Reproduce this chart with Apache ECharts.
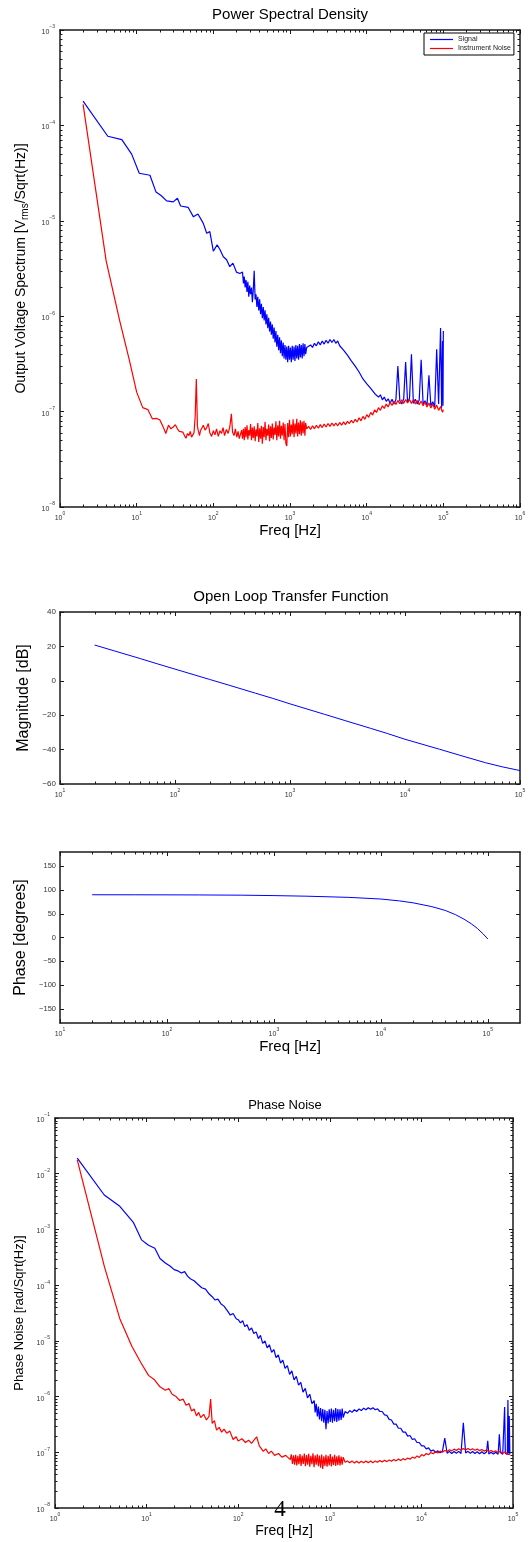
<!DOCTYPE html>
<html>
<head>
<meta charset="utf-8">
<script src="https://cdn.jsdelivr.net/npm/echarts@6/dist/echarts.min.js"></script>
<style>
html, body { margin: 0; padding: 0; background: #fff; }
#chart { width: 532px; height: 1542px; }
</style>
</head>
<body>
<div id="chart"></div>
<script>
// ---- Power Spectral Density [freq Hz, V/sqrt(Hz)] ----
const psdSignal = [
  [2,1.8e-4],[4.2,7.7e-5],[6.4,7.1e-5],[8.6,5.0e-5],[10.8,3.15e-5],[14.9,3.0e-5],[17.9,2.0e-5],
  [21,1.83e-5],[24.6,1.62e-5],[30,1.58e-5],[34,1.72e-5],[37.4,1.43e-5],[47,1.38e-5],[55,1.1e-5],
  [63,1.18e-5],[74,9.4e-6],[82,7.4e-6],[90,7.7e-6],[100,4.8e-6],[112,5.6e-6],[122,5.0e-6],
  [135,4.2e-6],[149,3.9e-6],[164,3.3e-6],[180,3.6e-6],[200,2.9e-6],[222,2.8e-6],
  [240,2.9e-6],[247,2.2e-6],[253,2.6e-6],[260,2.0e-6],[267,2.4e-6],[275,1.8e-6],[282,2.3e-6],
  [290,1.6e-6],[298,2.1e-6],[306,1.7e-6],[315,2.0e-6],[323,1.4e-6],[332,1.9e-6],[341,3.0e-6],
  [351,1.5e-6],[360,1.7e-6],[370,1.25e-6],[380,1.6e-6],[391,1.15e-6],[402,1.5e-6],[413,1.05e-6],
  [424,1.35e-6],[436,9.5e-7],[448,1.25e-6],[460,9e-7],[473,1.15e-6],[486,8.2e-7],[499,1.05e-6],
  [513,7.5e-7],[527,9.6e-7],[542,6.9e-7],[557,8.8e-7],[572,6.4e-7],[588,8.2e-7],[604,5.8e-7],
  [621,7.6e-7],[638,5.3e-7],[655,7e-7],[673,4.8e-7],[692,6.4e-7],[711,4.4e-7],[731,6e-7],
  [751,4.1e-7],[771,5.6e-7],[793,3.8e-7],[815,5.3e-7],[837,3.6e-7],[860,5.0e-7],[884,3.5e-7],
  [908,4.8e-7],[933,3.3e-7],[959,4.9e-7],[985,3.5e-7],[1012,4.7e-7],[1040,3.3e-7],[1069,4.9e-7],
  [1098,3.5e-7],[1129,4.8e-7],[1160,3.4e-7],[1192,5.0e-7],[1225,3.6e-7],[1258,4.9e-7],[1293,3.5e-7],
  [1329,5.1e-7],[1365,3.7e-7],[1403,5.0e-7],[1442,3.6e-7],[1481,5.2e-7],[1522,3.8e-7],[1564,5.1e-7],
  [1600,4.0e-7],[1650,4.7e-7],[1750,4.5e-7],[1855,5.0e-7],[1966,4.7e-7],[2084,5.2e-7],[2209,4.9e-7],
  [2342,5.4e-7],[2482,5.0e-7],[2631,5.5e-7],[2789,5.1e-7],[2956,5.6e-7],[3134,5.2e-7],[3322,5.7e-7],
  [3521,5.3e-7],[3732,5.7e-7],[3956,5.2e-7],[4194,5.5e-7],[4445,4.9e-7],[4712,5.1e-7],[4995,4.4e-7],
  [5294,4.5e-7],[5612,3.9e-7],[5949,4.0e-7],[6306,3.4e-7],[6684,3.5e-7],[7085,3.0e-7],[7510,3.0e-7],
  [7961,2.6e-7],[8438,2.6e-7],[8945,2.2e-7],[9481,2.3e-7],[10050,1.95e-7],[10653,2.0e-7],
  [11292,1.75e-7],[11970,1.8e-7],[12688,1.55e-7],[13449,1.6e-7],[14256,1.42e-7],[15111,1.5e-7],
  [16018,1.33e-7],[16979,1.42e-7],[17998,1.28e-7],[19078,1.36e-7],[20222,1.22e-7],[21436,1.35e-7],
  [22722,1.2e-7],[24085,1.34e-7],[25530,3.0e-7],[27062,1.3e-7],[28686,1.2e-7],[30407,1.36e-7],
  [32231,3.3e-7],[34165,1.25e-7],[36215,1.38e-7],[38388,4.0e-7],[40691,1.22e-7],[43133,1.35e-7],
  [45721,1.2e-7],[48464,1.32e-7],[51372,3.5e-7],[54454,1.2e-7],[57721,1.3e-7],[61184,1.15e-7],
  [64855,2.4e-7],[68747,1.15e-7],[72872,1.27e-7],[77244,1.12e-7],[81879,4.5e-7],[86792,1.2e-7],
  [92000,7.5e-7],[95000,1.1e-7],[97520,5.5e-7],[99000,1.15e-7],[100000,7.0e-7]
];
const psdNoise = [
  [2,1.66e-4],[4,3.8e-6],[6,9e-7],[8,3.5e-7],[10,1.6e-7],[12,1.1e-7],[14,1.05e-7],[16,8.4e-8],
  [18,8.5e-8],[20,8.2e-8],[22,7e-8],[24,5.9e-8],[26,7.2e-8],[28,6.6e-8],[30,6.9e-8],[32,7.3e-8],
  [34,6.6e-8],[36,6.2e-8],[38,6.5e-8],[40,6.1e-8],[42,5.6e-8],[44,5.25e-8],[46,5.9e-8],[48,5.6e-8],
  [50,6.2e-8],[52,5.4e-8],[54,5.7e-8],[56,6.0e-8],[58,9e-8],[60,2.2e-7],[62,7e-8],[64,6.2e-8],
  [66,5.6e-8],[68,6.3e-8],[70,6.6e-8],[74,7.2e-8],[78,6.4e-8],[82,6.8e-8],[86,7.5e-8],[90,6.0e-8],
  [95,5.5e-8],[100,6.3e-8],[105,5.7e-8],[110,6.6e-8],[116,5.5e-8],[122,6.3e-8],[128,5.9e-8],
  [134,6.8e-8],[140,5.6e-8],[148,6.5e-8],[156,5.9e-8],[164,6.9e-8],[172,9.5e-8],[178,6.1e-8],
  [186,5.6e-8],[194,6.6e-8],[202,5.4e-8],[210,6.2e-8],[218,5.2e-8],[226,5.0e-8],[234,6.4e-8],
  [240,5.2e-8],[247,6.6e-8],[253,5.0e-8],[260,6.9e-8],[267,5.4e-8],[275,7.2e-8],[282,5.1e-8],
  [290,6.4e-8],[298,5.6e-8],[306,7.4e-8],[315,5.0e-8],[323,6.8e-8],[332,5.3e-8],[341,7.0e-8],
  [351,4.9e-8],[360,6.5e-8],[370,5.5e-8],[380,7.6e-8],[391,4.8e-8],[402,6.7e-8],[413,5.2e-8],
  [424,7.1e-8],[436,4.6e-8],[448,6.9e-8],[460,5.4e-8],[473,7.8e-8],[486,5.0e-8],[499,6.6e-8],
  [513,5.6e-8],[527,7.3e-8],[542,4.9e-8],[557,7.0e-8],[572,5.3e-8],[588,7.5e-8],[604,5.1e-8],
  [621,6.8e-8],[638,5.7e-8],[655,7.9e-8],[673,5.0e-8],[692,7.2e-8],[711,5.5e-8],[731,8.0e-8],
  [751,5.2e-8],[771,7.1e-8],[793,5.6e-8],[815,7.7e-8],[837,5.0e-8],[860,7.4e-8],[884,4.6e-8],
  [908,4.35e-8],[933,7.6e-8],[959,5.4e-8],[985,8.2e-8],[1012,5.5e-8],[1040,7.3e-8],[1069,5.8e-8],
  [1098,8.3e-8],[1129,5.4e-8],[1160,7.5e-8],[1192,5.9e-8],[1225,8.4e-8],[1258,5.5e-8],[1293,7.7e-8],
  [1329,5.8e-8],[1365,8.1e-8],[1403,5.6e-8],[1442,7.8e-8],[1481,5.9e-8],[1522,8.0e-8],[1564,5.6e-8],
  [1600,7.6e-8],[1650,6.6e-8],[1750,7.0e-8],[1855,6.5e-8],[1966,7.1e-8],[2084,6.6e-8],[2209,7.2e-8],
  [2342,6.7e-8],[2482,7.3e-8],[2631,6.8e-8],[2789,7.4e-8],[2956,6.9e-8],[3134,7.5e-8],[3322,7.0e-8],
  [3521,7.6e-8],[3732,7.1e-8],[3956,7.6e-8],[4194,7.1e-8],[4445,7.7e-8],[4712,7.2e-8],[4995,7.8e-8],
  [5294,7.3e-8],[5612,7.9e-8],[5949,7.5e-8],[6306,8.1e-8],[6684,7.6e-8],[7085,8.3e-8],[7510,7.8e-8],
  [7961,8.6e-8],[8438,8.0e-8],[8945,8.9e-8],[9481,8.3e-8],[10050,9.3e-8],[10653,8.7e-8],[11292,9.8e-8],
  [11970,9.2e-8],[12688,1.04e-7],[13449,9.8e-8],[14256,1.1e-7],[15111,1.03e-7],[16018,1.15e-7],
  [16979,1.08e-7],[17998,1.2e-7],[19078,1.12e-7],[20222,1.25e-7],[21436,1.16e-7],[22722,1.28e-7],
  [24085,1.19e-7],[25530,1.31e-7],[27062,1.21e-7],[28686,1.33e-7],[30407,1.22e-7],[32231,1.34e-7],
  [34165,1.23e-7],[36215,1.34e-7],[38388,1.22e-7],[40691,1.33e-7],[43133,1.2e-7],[45721,1.31e-7],
  [48464,1.18e-7],[51372,1.29e-7],[54454,1.15e-7],[57721,1.26e-7],[61184,1.12e-7],[64855,1.23e-7],
  [68747,1.09e-7],[72872,1.2e-7],[77244,1.06e-7],[81879,1.17e-7],[86792,1.03e-7],[92000,1.13e-7],
  [97520,9.8e-8],[100000,1.05e-7]
];

// ---- Open loop transfer function ----
const magData = [
  [20,20.8],[30,17.3],[50,12.9],[70,9.9],[100,6.8],[200,0.8],[300,-2.7],[500,-7.2],[700,-10.1],
  [1000,-13.4],[2000,-19.5],[3000,-23.1],[5000,-27.6],[7000,-30.6],[10000,-34],[20000,-39.8],
  [30000,-43.3],[50000,-47.6],[70000,-50],[100000,-52.2]
];
const phaseData = [
  [20,90],[50,89.9],[100,89.8],[200,89.6],[500,89.1],[1000,88.2],[2000,87],[5000,84.5],[10000,81],
  [15000,77],[20000,73],[30000,65],[40000,57],[50000,48],[60000,38.5],[70000,29],[80000,19],
  [90000,8],[100000,-3]
];

// ---- Phase noise [freq Hz, rad/sqrt(Hz)] ----
const pnSignal = [
  [1.75,1.9e-2],[3.45,4.15e-3],[5.1,2.6e-3],[7.2,1.32e-3],[8.8,6.5e-4],[10.5,5.2e-4],[12.3,4.6e-4],
  [14,3e-4],[16,2.5e-4],[18,2.2e-4],[20,1.9e-4],[22,1.8e-4],[24,1.65e-4],[26,1.75e-4],[28,1.45e-4],
  [30,1.3e-4],[33,1.2e-4],[36,1.05e-4],[40,9e-5],[44,8.5e-5],[48,7e-5],[52,6.2e-5],[56,5.4e-5],
  [60,5.6e-5],[65,4.6e-5],[70,4.2e-5],[76,3.5e-5],[82,2.9e-5],[88,3.1e-5],[95,2.5e-5],[100,2.4e-5],
  [106,2.1e-5],[112,2.3e-5],[118,1.8e-5],[125,1.95e-5],[132,1.55e-5],[140,1.7e-5],[148,1.35e-5],
  [157,1.45e-5],[166,1.1e-5],[175,1.25e-5],[185,9e-6],[196,1e-5],[207,7.5e-6],[219,8.5e-6],
  [232,6.2e-6],[245,7e-6],[259,5e-6],[274,5.6e-6],[290,4e-6],[307,4.5e-6],[325,3.2e-6],[344,3.6e-6],
  [364,2.5e-6],[385,2.9e-6],[407,2e-6],[431,2.3e-6],[456,1.6e-6],[482,1.8e-6],[510,1.2e-6],
  [540,1.4e-6],[571,9.5e-7],[604,1.1e-6],[639,7.5e-7],[676,8.5e-7],[692,5.2e-7],[711,7.4e-7],
  [731,4.4e-7],[751,6.6e-7],[771,3.9e-7],[793,6.2e-7],[815,3.6e-7],[837,6.0e-7],[860,3.4e-7],
  [884,5.8e-7],[908,2.6e-7],[933,5.5e-7],[959,3.3e-7],[985,5.9e-7],[1012,3.5e-7],[1040,6.1e-7],
  [1069,3.4e-7],[1098,5.8e-7],[1129,3.6e-7],[1160,6.2e-7],[1192,3.5e-7],[1225,6.0e-7],[1258,3.7e-7],
  [1293,5.9e-7],[1329,3.8e-7],[1365,6.1e-7],[1400,4.2e-7],[1470,5.4e-7],[1560,5.0e-7],[1650,5.6e-7],
  [1750,5.2e-7],[1855,5.8e-7],[1966,5.4e-7],[2084,6.0e-7],[2209,5.6e-7],[2342,6.2e-7],[2482,5.8e-7],
  [2631,6.3e-7],[2789,5.9e-7],[2956,6.3e-7],[3134,5.8e-7],[3322,6.0e-7],[3521,5.4e-7],[3732,5.4e-7],
  [3956,4.7e-7],[4194,4.6e-7],[4445,3.9e-7],[4712,3.8e-7],[4995,3.2e-7],[5294,3.2e-7],[5612,2.7e-7],
  [5949,2.7e-7],[6306,2.3e-7],[6684,2.3e-7],[7085,1.95e-7],[7510,2.0e-7],[7961,1.7e-7],[8438,1.75e-7],
  [8945,1.5e-7],[9481,1.5e-7],[10050,1.3e-7],[10653,1.3e-7],[11292,1.15e-7],[11970,1.2e-7],
  [12688,1.05e-7],[13449,1.1e-7],[14256,1.0e-7],[15111,1.06e-7],[16018,9.8e-8],[16979,1.05e-7],
  [17998,1.8e-7],[19078,9.6e-8],[20222,1.04e-7],[21436,9.5e-8],[22722,1.03e-7],[24085,9.6e-8],
  [25530,1.04e-7],[27062,9.5e-8],[28686,3.4e-7],[30407,9.7e-8],[32231,1.04e-7],[34165,9.6e-8],
  [36215,1.03e-7],[38388,9.5e-8],[40691,1.02e-7],[43133,9.4e-8],[45721,1.02e-7],[48464,9.4e-8],
  [51372,1.01e-7],[53000,1.6e-7],[54454,9.3e-8],[57721,1.0e-7],[61184,9.3e-8],[64855,1.0e-7],
  [68747,9.2e-8],[71000,2.1e-7],[72872,9.9e-8],[77244,9.2e-8],[81000,6.5e-7],[82500,9.6e-8],
  [86792,9.1e-8],[88000,8.7e-7],[89500,9.5e-8],[91000,4.5e-7],[92500,9.2e-8]
];
const pnNoise = [
  [1.75,1.77e-2],[3.45,2.2e-4],[5.1,2.5e-5],[6.9,8e-6],[8.7,4e-6],[10.5,2.4e-6],[12.2,2e-6],
  [14,1.5e-6],[16,1.3e-6],[17.5,1.4e-6],[19,1.1e-6],[21,1.0e-6],[23,8.5e-7],[25,9e-7],[27,7e-7],
  [29,7.5e-7],[31,5.5e-7],[33,6e-7],[35,4.5e-7],[37,5.2e-7],[39,4.2e-7],[42,4.8e-7],[45,3.8e-7],
  [48,4.4e-7],[50,9e-7],[52,3.3e-7],[55,3.7e-7],[58,2.5e-7],[62,2.8e-7],[66,2.3e-7],[70,2.6e-7],
  [75,2.2e-7],[81,2.4e-7],[88,1.7e-7],[95,1.9e-7],[100,1.6e-7],[110,1.75e-7],[120,1.5e-7],
  [130,1.65e-7],[140,1.45e-7],[146,1.58e-7],[159,1.9e-7],[170,1.3e-7],[188,1.04e-7],[200,1.15e-7],
  [215,9.5e-8],[230,1.05e-7],[250,8.8e-8],[275,9.5e-8],[300,8.2e-8],[330,8.8e-8],[370,7.4e-8],
  [380,9.2e-8],[391,6.2e-8],[402,8.8e-8],[413,6.0e-8],[424,9.0e-8],[436,5.8e-8],[448,8.6e-8],
  [460,6.1e-8],[473,9.3e-8],[486,5.7e-8],[499,8.7e-8],[513,6.2e-8],[527,9.5e-8],[542,5.6e-8],
  [557,8.9e-8],[572,6.0e-8],[588,9.4e-8],[604,5.5e-8],[621,8.6e-8],[638,6.1e-8],[655,9.6e-8],
  [673,5.4e-8],[692,8.8e-8],[711,6.0e-8],[731,9.2e-8],[751,5.6e-8],[771,8.7e-8],[793,5.3e-8],
  [815,9.1e-8],[837,5.0e-8],[860,8.5e-8],[884,5.7e-8],[908,9.0e-8],[933,5.5e-8],[959,8.6e-8],
  [985,5.8e-8],[1012,9.3e-8],[1040,5.6e-8],[1069,8.4e-8],[1098,5.9e-8],[1129,9.0e-8],[1160,5.7e-8],
  [1192,8.5e-8],[1225,5.9e-8],[1258,8.8e-8],[1293,5.8e-8],[1329,8.4e-8],[1365,6.0e-8],[1400,8.2e-8],
  [1470,6.6e-8],[1560,7.0e-8],[1650,6.5e-8],[1750,7.0e-8],[1855,6.4e-8],[1966,6.9e-8],[2084,6.4e-8],
  [2209,6.9e-8],[2342,6.5e-8],[2482,7.0e-8],[2631,6.5e-8],[2789,7.0e-8],[2956,6.5e-8],[3134,7.0e-8],
  [3322,6.6e-8],[3521,7.1e-8],[3732,6.7e-8],[3956,7.2e-8],[4194,6.8e-8],[4445,7.3e-8],[4712,6.9e-8],
  [4995,7.4e-8],[5294,7.0e-8],[5612,7.6e-8],[5949,7.1e-8],[6306,7.7e-8],[6684,7.3e-8],[7085,7.9e-8],
  [7510,7.5e-8],[7961,8.2e-8],[8438,7.8e-8],[8945,8.6e-8],[9481,8.1e-8],[10050,9.1e-8],[10653,8.6e-8],
  [11292,9.5e-8],[11970,9.0e-8],[12688,9.9e-8],[13449,9.4e-8],[14256,1.02e-7],[15111,9.7e-8],
  [16018,1.05e-7],[16979,1.0e-7],[17998,1.08e-7],[19078,1.03e-7],[20222,1.11e-7],[21436,1.06e-7],
  [22722,1.14e-7],[24085,1.08e-7],[25530,1.16e-7],[27062,1.09e-7],[28686,1.17e-7],[30407,1.1e-7],
  [32231,1.17e-7],[34165,1.1e-7],[36215,1.16e-7],[38388,1.09e-7],[40691,1.14e-7],[43133,1.07e-7],
  [45721,1.12e-7],[48464,1.05e-7],[51372,1.1e-7],[54454,1.03e-7],[57721,1.08e-7],[61184,1.01e-7],
  [64855,1.06e-7],[68747,9.9e-8],[72872,1.04e-7],[77244,9.6e-8],[81879,1.01e-7],[86792,9.3e-8],
  [92500,9.1e-8]
];

// ---- axis ticks ----
const psdXTicks = [1, 10, 100, 1e3, 1e4, 1e5, 1e6];
const psdYTicks = [1e-8, 1e-7, 1e-6, 1e-5, 1e-4, 1e-3];
const bodeXTicks = [10, 100, 1e3, 1e4, 1e5];
const magYTicks = [-60, -40, -20, 0, 20, 40];
const phaseYTicks = [-150, -100, -50, 0, 50, 100, 150];
const pnXTicks = [1, 10, 100, 1e3, 1e4, 1e5];
const pnYTicks = [1e-8, 1e-7, 1e-6, 1e-5, 1e-4, 1e-3, 1e-2, 1e-1];

const FONT = '"Liberation Sans", Arial, Helvetica, sans-serif';
const LINE = '#1a1a1a';
const TXT = '#333';

function supLabel(v) {
  const e = Math.round(Math.log10(v));
  return '{b|10}{s|' + (e < 0 ? '\u2212' + (-e) : String(e)) + '}';
}
const supRich = {
  b: { fontSize: 7, fontFamily: FONT, color: TXT, lineHeight: 11, verticalAlign: 'bottom' },
  s: { fontSize: 5, fontFamily: FONT, color: TXT, lineHeight: 6, verticalAlign: 'top' }
};

function minorList(min, max) {
  const out = [];
  for (let d = min; d < max * 0.999; d *= 10) {
    for (let k = 2; k <= 9; k++) {
      if (k * d < max * 0.999) out.push(k * d);
    }
  }
  return out;
}

function baseAxis(gridIndex, position, type, min, max) {
  return {
    gridIndex, position, type, min, max,
    axisLine: { show: true, onZero: false, lineStyle: { color: LINE, width: 1.5 } },
    axisTick: { show: true, inside: true, length: 4, lineStyle: { color: LINE, width: 1 } },
    splitLine: { show: false },
    axisLabel: { show: false }
  };
}

function logAxis(gridIndex, position, min, max, ticks, labels, margin) {
  const a = baseAxis(gridIndex, position, 'log', min, max);
  a.logBase = 10;
  a.axisTick.customValues = ticks;
  if (labels) {
    a.axisLabel = { show: true, customValues: ticks, formatter: supLabel, rich: supRich, margin: margin };
  }
  return a;
}

function linAxis(gridIndex, position, min, max, ticks, labels, fontSize) {
  const a = baseAxis(gridIndex, position, 'value', min, max);
  a.axisTick.customValues = ticks;
  if (labels) {
    a.axisLabel = {
      show: true, customValues: ticks, fontSize: fontSize, color: TXT, fontFamily: FONT, margin: 4,
      formatter: v => String(v).replace('-', '\u2212')
    };
  }
  return a;
}

function withName(axis, name, gap, size, rich) {
  axis.name = name;
  axis.nameLocation = 'middle';
  axis.nameGap = gap;
  axis.nameTextStyle = { fontSize: size, fontFamily: FONT, color: '#000' };
  if (rich) axis.nameTextStyle.rich = rich;
  if (axis.position === 'left') axis.nameRotate = 90;
  return axis;
}

function lineSeries(name, xi, yi, data, color, width) {
  return {
    name, type: 'line', xAxisIndex: xi, yAxisIndex: yi, data,
    showSymbol: false, symbol: 'none', animation: false, z: 3,
    lineStyle: { color, width: width || 1 }, itemStyle: { color }
  };
}

// minor ticks drawn inside the box on both sides, placed through the axis scale
function minorSeries(xi, yi, dir, values, ref, len) {
  return {
    type: 'custom', xAxisIndex: xi, yAxisIndex: yi, silent: true, animation: false, z: 10,
    clip: false,
    encode: { x: 0, y: 1 },
    data: values.map(v => dir === 'x' ? [v, ref] : [ref, v]),
    renderItem(params, api) {
      const cs = params.coordSys;
      const p = api.coord([api.value(0), api.value(1)]);
      const st = { stroke: LINE, lineWidth: 1 };
      if (dir === 'x') {
        const x = Math.round(p[0]) + 0.5;
        const b = cs.y + cs.height;
        return { type: 'group', children: [
          { type: 'line', shape: { x1: x, y1: b, x2: x, y2: b - len }, style: st },
          { type: 'line', shape: { x1: x, y1: cs.y, x2: x, y2: cs.y + len }, style: st }
        ] };
      }
      const y = Math.round(p[1]) + 0.5;
      const r = cs.x + cs.width;
      return { type: 'group', children: [
        { type: 'line', shape: { x1: cs.x, y1: y, x2: cs.x + len, y2: y }, style: st },
        { type: 'line', shape: { x1: r, y1: y, x2: r - len, y2: y }, style: st }
      ] };
    }
  };
}

const chart = echarts.init(document.getElementById('chart'));

const xAxis = [
  withName(logAxis(0, 'bottom', 1, 1e6, psdXTicks, true, 4), 'Freq [Hz]', 16, 15),
  logAxis(0, 'top', 1, 1e6, psdXTicks, false),
  logAxis(1, 'bottom', 10, 1e5, bodeXTicks, true, 4),
  logAxis(1, 'top', 10, 1e5, bodeXTicks, false),
  withName(logAxis(2, 'bottom', 10, 2e5, bodeXTicks, true, 4), 'Freq [Hz]', 16, 15),
  logAxis(2, 'top', 10, 2e5, bodeXTicks, false),
  withName(logAxis(3, 'bottom', 1, 1e5, pnXTicks, true, 4), 'Freq [Hz]', 15, 14),
  logAxis(3, 'top', 1, 1e5, pnXTicks, false)
];

const yAxis = [
  withName(logAxis(0, 'left', 1e-8, 1e-3, psdYTicks, true, 5),
    '{a|Output Voltage Spectrum [V}{sub|rms}{a|/Sqrt(Hz)]}', 30, 14, {
      a: { fontSize: 14, fontFamily: FONT, color: '#000', lineHeight: 16, verticalAlign: 'top' },
      sub: { fontSize: 10, fontFamily: FONT, color: '#000', lineHeight: 12, padding: [8, 0, 0, 0], verticalAlign: 'bottom' }
    }),
  logAxis(0, 'right', 1e-8, 1e-3, psdYTicks, false),
  withName(linAxis(1, 'left', -60, 40, magYTicks, true, 8), 'Magnitude [dB]', 20, 16),
  linAxis(1, 'right', -60, 40, magYTicks, false),
  withName(linAxis(2, 'left', -180, 180, phaseYTicks, true, 7.5), 'Phase [degrees]', 27, 16),
  linAxis(2, 'right', -180, 180, phaseYTicks, false),
  withName(logAxis(3, 'left', 1e-8, 1e-1, pnYTicks, true, 5), 'Phase Noise [rad/Sqrt(Hz)]', 20, 13),
  logAxis(3, 'right', 1e-8, 1e-1, pnYTicks, false)
];

const series = [
  lineSeries('Signal', 0, 0, psdSignal, '#0000ff', 1.2),
  lineSeries('Instrument Noise', 0, 0, psdNoise, '#ff0000', 1.2),
  lineSeries('Magnitude', 2, 2, magData, '#0000ff', 1),
  lineSeries('Phase', 4, 4, phaseData, '#0000ff', 1),
  lineSeries('Signal PN', 6, 6, pnSignal, '#0000ff', 1.2),
  lineSeries('Instrument Noise PN', 6, 6, pnNoise, '#ff0000', 1.2),
  minorSeries(0, 0, 'x', minorList(1, 1e6), 1e-8, 2.5),
  minorSeries(0, 0, 'y', minorList(1e-8, 1e-3), 1, 2.5),
  minorSeries(2, 2, 'x', minorList(10, 1e5), -60, 2.5),
  minorSeries(4, 4, 'x', minorList(10, 2e5), -180, 2.5),
  minorSeries(6, 6, 'x', minorList(1, 1e5), 1e-8, 2.5),
  minorSeries(6, 6, 'y', minorList(1e-8, 1e-1), 1, 2.5)
];

chart.setOption({
  backgroundColor: '#fff',
  animation: false,
  grid: [
    { left: 60, top: 30, width: 460, height: 477 },
    { left: 60, top: 612, width: 460, height: 172 },
    { left: 60, top: 852, width: 460, height: 171 },
    { left: 55, top: 1118, width: 458, height: 390 }
  ],
  legend: {
    data: ['Signal', 'Instrument Noise'],
    orient: 'vertical', left: 424, top: 33,
    icon: 'rect', itemWidth: 23, itemHeight: 1.2, itemGap: 2,
    padding: [3, 3, 3, 6],
    borderColor: '#000', borderWidth: 1, backgroundColor: '#fff',
    selectedMode: false,
    textStyle: { fontSize: 7, color: '#222', fontFamily: FONT }
  },
  graphic: [
    { type: 'text', x: 290, y: 7, style: { text: 'Power Spectral Density', fontSize: 15, fontFamily: FONT, fill: '#000', align: 'center', verticalAlign: 'top' } },
    { type: 'text', x: 291, y: 589, style: { text: 'Open Loop Transfer Function', fontSize: 15, fontFamily: FONT, fill: '#000', align: 'center', verticalAlign: 'top' } },
    { type: 'text', x: 285, y: 1099, style: { text: 'Phase Noise', fontSize: 13, fontFamily: FONT, fill: '#000', align: 'center', verticalAlign: 'top' } },
    { type: 'text', x: 280, y: 1498, z: 100, style: { text: '4', fontSize: 23, fontFamily: '"Liberation Serif", "DejaVu Serif", serif', fill: '#000', align: 'center', verticalAlign: 'top' } }
  ],
  xAxis,
  yAxis,
  series
});
</script>
</body>
</html>
